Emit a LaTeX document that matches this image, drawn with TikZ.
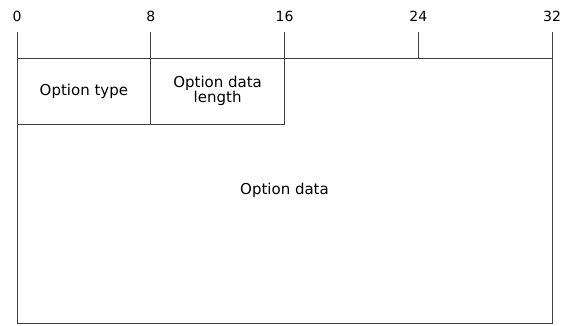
\documentclass[tikz,border=0pt]{standalone}
\usepackage{fontspec}
\setmainfont{DejaVu Sans}
\usepackage{tikz}
\usetikzlibrary{positioning}
\tikzstyle{line} = [draw=black!75,line width=0.9pt]

\begin{document}
\begin{tikzpicture}[x=1pt,y=1pt,node distance=0pt,
            field/.style = {draw=black!75, line width=0.9pt,
              minimum width=133.75pt, minimum height=66pt,
              inner sep=0pt, outer sep=0pt, align=center,
              font=\fontsize{15}{15}\selectfont},
            bitlabel/.style = {inner sep=0pt, font=\fontsize{14}{14}\selectfont}]
            \useasboundingbox (0,0) rectangle (561,325);
            % frame of the whole option
            \coordinate (nw) at (17,267);
            \coordinate (se) at (552,2);
            \path [line] (nw) rectangle (se);
            \node[field, anchor=north west] (otype) at (nw) {Option type};
            \node[field] (olen) [right = of otype] {Option data\\length};
            \node (odata) at (284.5,135) [inner sep=0pt, font=\fontsize{15}{15}\selectfont] {Option data};
            % bit ruler on top
            \foreach \b in {0,8,16,24,32} {
              \coordinate (t\b) at ({17+\b*16.72},267);
              \node[bitlabel] (b\b) at ({17+\b*16.72},309) {\b};
              \path [line] (t\b) -- ++(0,26);
            }
\end{tikzpicture}
\end{document}
